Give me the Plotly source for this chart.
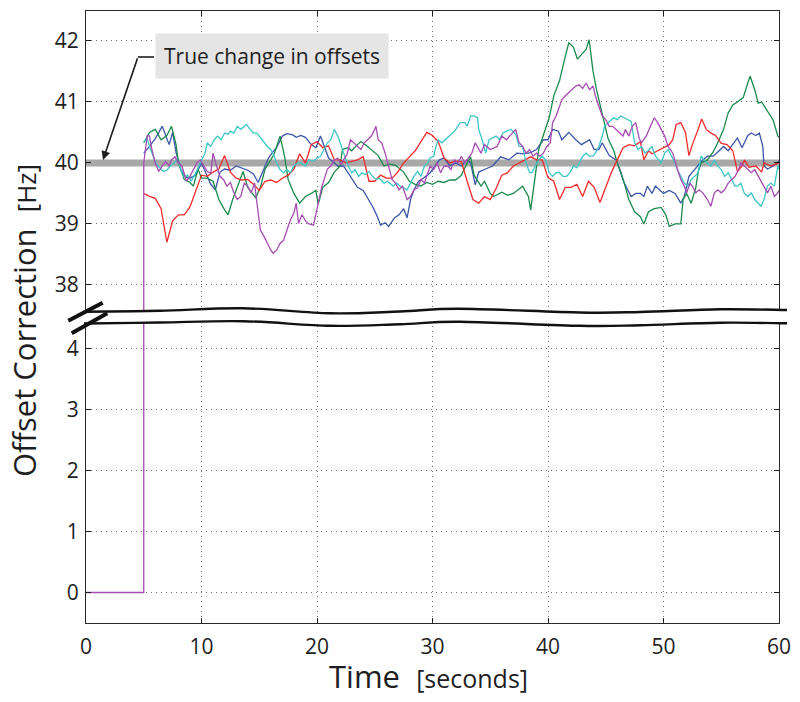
import plotly.graph_objects as go

# ---------------- data ----------------
time_ticks = [0, 10, 20, 30, 40, 50, 60]
low_ticks = [0, 1, 2, 3, 4]
high_ticks = [38, 39, 40, 41, 42]
true_offset = 40
OFF = 32.96  # shift applied to the upper (38-42 Hz) panel of the broken axis

red = [(5.0,39.50),(5.5,39.45),(6.0,39.42),(6.5,39.25),(7.0,38.70),(7.5,39.05),(8.0,39.15),(8.5,39.15),
       (9.0,39.28),(9.5,39.55),(10.0,39.80),(10.5,39.78),(11.0,39.85),(11.5,39.90),(12.0,40.12),(12.5,39.85),
       (13.0,39.75),(13.5,39.72),(14.0,39.73),(14.5,39.65),(15.0,39.55),(15.5,39.70),(16.0,39.72),(16.5,39.68),
       (17.0,39.75),(17.5,39.80),(18.0,39.90),(18.5,40.15),(19.0,40.00),(19.5,40.30),(20.0,40.35),(20.5,40.25),
       (21.0,40.28),(21.5,40.05),(22.0,40.05),(22.5,40.00),(23.0,40.02),(23.5,40.05),(24.0,40.10),(24.5,39.70),
       (25.0,39.70),(25.5,39.80),(26.0,39.75),(26.5,39.75),(27.0,39.85),(27.5,40.00),(28.0,40.10),(28.5,40.20),
       (29.0,40.35),(29.5,40.50),(30.0,40.45),(30.5,40.35),(31.0,40.08),(31.5,40.00),(32.0,40.03),(32.5,40.02),
       (33.0,39.70),(33.5,39.40),(34.0,39.34),(34.5,39.45),(35.0,39.40),(35.5,39.58),(36.0,39.80),(36.5,39.84),
       (37.0,39.95),(37.5,40.00),(38.0,40.05),(38.5,40.10),(39.0,40.05),(39.5,40.05),(40.0,39.76),(40.5,39.70),
       (41.0,39.40),(41.5,39.60),(42.0,39.60),(42.5,39.65),(43.0,39.45),(43.5,39.70),(44.0,39.60),(44.5,39.35),
       (45.0,39.60),(45.5,39.85),(46.0,40.05),(46.5,40.25),(47.0,40.30),(47.5,40.28),(48.0,40.35),(48.3,40.05),
       (48.7,40.20),(49.0,40.15),(49.5,40.20),(50.0,40.25),(50.5,40.30),(50.8,40.38),(51.1,40.63),(51.5,40.66),
       (51.9,40.50),(52.2,40.12),(52.5,40.30),(53.0,40.55),(53.3,40.72),(53.7,40.55),(54.0,40.50),(54.5,40.45),
       (55.0,40.32),(55.5,40.30),(56.0,40.20),(56.4,39.86),(56.8,39.95),(57.0,40.05),(57.4,39.93),(58.0,39.95),
       (58.5,39.85),(58.7,40.00),(59.3,39.95),(60.0,40.00)]

green = [(5.0,40.33),(5.5,40.50),(6.0,40.55),(6.5,40.38),(7.0,40.45),(7.4,40.60),(7.8,40.30),(8.0,40.00),
         (8.5,39.73),(9.0,39.68),(9.3,39.62),(9.7,39.90),(10.0,39.75),(10.5,39.75),(11.0,39.70),(11.5,39.40),
         (12.0,39.23),(12.3,39.15),(12.7,39.40),(13.0,39.55),(13.6,39.86),(14.0,39.60),(14.7,39.43),(15.1,39.60),
         (15.5,39.90),(16.0,40.05),(16.3,40.15),(16.8,40.44),(17.2,40.10),(17.5,39.73),(18.0,39.50),(18.5,39.34),
         (19.0,39.45),(19.5,39.50),(19.9,39.55),(20.1,39.32),(20.5,39.60),(21.0,39.68),(21.5,39.85),(22.0,39.95),
         (22.2,40.22),(22.7,40.25),(23.0,40.20),(23.5,40.30),(23.8,40.35),(24.3,40.28),(24.8,40.20),(25.3,40.12),
         (25.8,39.95),(26.3,39.98),(26.8,39.96),(27.5,39.85),(28.0,39.70),(28.5,39.65),(29.0,39.62),(29.5,39.68),
         (30.0,39.65),(30.5,39.70),(31.0,39.68),(31.5,39.72),(32.0,39.72),(32.5,39.80),(33.0,40.00),(33.3,40.10),
         (33.6,39.80),(34.2,39.62),(34.5,39.70),(35.0,39.50),(35.3,39.45),(36.0,39.52),(36.5,39.47),(37.0,39.50),
         (37.8,39.62),(38.3,39.45),(38.5,39.23),(38.9,39.75),(39.2,40.22),(39.5,40.40),(40.1,40.74),(40.5,41.10),
         (41.0,41.35),(41.5,41.75),(41.8,41.97),(42.2,41.90),(42.55,41.70),(43.0,41.80),(43.3,41.86),(43.56,42.02),
         (43.9,41.50),(44.2,41.20),(44.7,40.82),(45.2,40.40),(45.7,40.20),(46.0,40.00),(46.6,39.67),(47.0,39.40),
         (47.5,39.20),(48.0,39.12),(48.3,39.00),(48.7,39.20),(49.2,39.25),(49.8,39.27),(50.2,39.15),(50.5,38.96),
         (51.0,39.00),(51.5,39.00),(51.7,39.40),(52.0,39.50),(52.4,39.34),(52.8,39.60),(53.0,39.85),(53.25,40.00),
         (53.8,40.05),(54.3,40.18),(54.7,40.33),(55.2,40.55),(55.6,40.82),(56.0,40.95),(56.4,41.00),(56.9,41.07),
         (57.3,41.31),(57.5,41.42),(57.9,41.20),(58.2,40.98),(58.5,41.00),(59.0,40.85),(59.5,40.70),(59.9,40.44),
         (60.0,40.42)]

blue = [(5.0,40.16),(5.3,40.22),(5.5,40.27),(6.0,40.40),(6.3,40.50),(6.6,40.60),(6.9,40.45),(7.2,40.30),
        (7.5,40.50),(7.8,40.17),(8.2,39.90),(8.6,39.77),(9.0,39.75),(9.5,39.80),(10.0,40.00),(10.4,39.82),
        (10.8,39.65),(11.2,39.56),(11.6,39.85),(12.0,39.90),(12.5,39.88),(13.0,39.95),(13.5,39.92),(14.0,39.88),
        (14.5,39.82),(14.9,39.68),(15.4,39.90),(15.8,40.08),(16.1,40.16),(16.5,40.25),(17.0,40.44),(17.4,40.48),
        (17.9,40.46),(18.2,40.42),(18.6,40.45),(19.0,40.42),(19.5,40.30),(19.9,40.25),(20.3,40.44),(20.6,40.28),
        (21.0,40.08),(21.4,40.02),(21.8,39.95),(22.3,39.95),(23.2,39.67),(23.5,39.60),(24.0,39.55),(24.5,39.40),
        (24.8,39.29),(25.2,39.13),(25.5,38.98),(25.9,39.02),(26.2,38.96),(26.7,39.10),(27.1,39.15),(27.5,39.25),
        (27.8,39.10),(28.1,39.40),(28.4,39.56),(28.8,39.70),(29.2,39.75),(29.8,39.84),(30.2,39.95),(30.6,40.05),
        (31.0,40.08),(31.5,39.95),(32.0,40.00),(32.5,39.95),(33.0,40.05),(33.3,40.00),(33.7,39.64),(34.0,39.85),
        (34.6,39.90),(35.2,39.95),(35.9,40.10),(36.6,40.05),(37.3,40.16),(37.9,40.15),(38.5,40.17),(39.0,40.22),
        (39.6,40.38),(40.0,40.38),(40.4,40.55),(40.9,40.52),(41.2,40.38),(41.8,40.50),(42.4,40.38),(42.9,40.30),
        (43.6,40.38),(44.0,40.22),(44.4,40.22),(44.7,40.33),(45.3,40.12),(45.9,40.05),(46.3,39.85),(46.6,39.67),
        (47.2,39.45),(47.6,39.50),(48.0,39.50),(48.3,39.45),(48.6,39.62),(49.0,39.50),(49.3,39.62),(49.7,39.55),
        (50.0,39.50),(50.5,39.55),(51.0,39.50),(51.5,39.34),(51.8,39.45),(52.2,39.78),(52.5,39.85),(53.0,39.97),
        (53.4,40.05),(53.8,40.11),(54.3,40.11),(54.7,40.18),(55.2,40.27),(55.6,40.20),(56.1,40.33),(56.4,40.41),
        (56.8,40.25),(57.3,40.45),(57.6,40.49),(58.0,40.45),(58.3,40.49),(58.6,40.27),(58.7,39.95),(59.0,39.90),
        (59.5,39.95),(60.0,40.03)]

purple = [(0.0,0.0),(5.0,0.0),(5.0,40.00),(5.3,40.45),(5.5,40.44),(5.7,40.22),(6.0,40.00),(6.3,39.86),
          (6.6,39.95),(6.9,40.02),(7.2,39.95),(7.4,40.05),(7.7,40.10),(8.0,40.00),(8.3,39.95),(8.7,39.70),
          (9.0,39.78),(9.3,39.90),(9.6,40.00),(9.9,40.05),(10.2,39.95),(10.5,39.86),(10.8,39.83),(11.0,40.16),
          (11.3,39.95),(11.6,39.78),(11.9,39.73),(12.2,39.62),(12.5,39.68),(12.8,39.51),(13.1,39.40),(13.4,39.45),
          (13.7,39.67),(14.0,39.62),(14.3,39.51),(14.6,39.67),(14.8,39.34),(15.0,39.05),(15.1,38.90),(15.4,38.80),
          (15.7,38.68),(16.0,38.57),(16.2,38.52),(16.5,38.57),(16.8,38.68),(17.1,38.73),(17.4,38.90),(17.7,39.07),
          (18.0,39.18),(18.2,39.34),(18.4,39.01),(18.7,39.15),(19.0,39.05),(19.3,39.00),(19.7,38.98),(20.0,39.25),
          (20.2,39.40),(20.4,39.60),(20.7,39.78),(20.9,39.90),(21.2,39.95),(21.5,40.05),(21.8,40.08),(22.1,39.97),
          (22.3,40.05),(22.6,40.14),(22.9,40.38),(23.2,40.33),(23.5,40.27),(23.8,40.22),(24.1,40.33),(24.4,40.38),
          (24.7,40.44),(25.0,40.55),(25.1,40.60),(25.3,40.38),(25.6,40.33),(25.9,40.16),(26.2,39.95),(26.5,39.73),
          (26.8,39.67),(27.1,39.56),(27.4,39.62),(27.8,39.40),(28.1,39.45),(28.4,39.56),(28.7,39.59),(29.0,39.73),
          (29.3,39.67),(29.6,39.84),(29.8,39.95),(30.1,39.89),(30.4,40.00),(30.7,39.84),(31.0,39.95),(31.3,39.95),
          (31.6,39.89),(31.9,40.05),(32.2,40.00),(32.5,40.11),(32.8,40.00),(33.1,40.08),(33.4,40.16),(33.7,40.33),
          (34.0,40.22),(34.2,40.16),(34.5,40.30),(35.0,40.22),(35.6,40.27),(36.0,40.44),(36.4,40.38),(36.9,40.49),
          (37.2,40.55),(37.5,40.33),(37.8,40.27),(38.1,40.16),(38.4,40.22),(38.7,40.11),(39.0,40.16),(39.3,40.11),
          (39.6,40.16),(39.9,40.27),(40.2,40.33),(40.4,40.66),(40.7,40.77),(41.0,40.93),(41.2,41.04),(41.5,41.10),
          (41.8,41.15),(42.1,41.20),(42.4,41.26),(42.7,41.28),(43.0,41.22),(43.3,41.31),(43.6,41.20),(43.9,41.26),
          (44.1,41.10),(44.4,40.93),(44.7,40.77),(45.0,40.71),(45.3,40.60),(45.6,40.60),(45.9,40.55),(46.2,40.49),
          (46.5,40.44),(46.7,40.55),(47.0,40.44),(47.3,40.60),(47.6,40.66),(47.9,40.40),(48.1,40.33),(48.5,40.44),
          (48.9,40.60),(49.2,40.74),(49.5,40.66),(49.8,40.55),(50.1,40.44),(50.4,40.27),(50.8,40.16),(51.2,39.90),
          (51.5,39.73),(51.8,39.62),(52.0,39.51),(52.3,39.67),(52.5,39.62),(52.8,39.51),(53.1,39.56),(53.4,39.51),
          (53.8,39.40),(54.1,39.29),(54.4,39.51),(54.7,39.56),(55.0,39.51),(55.3,39.56),(55.6,39.67),(55.9,39.73),
          (56.2,39.78),(56.5,39.89),(56.7,40.00),(57.0,39.95),(57.3,39.89),(57.6,39.84),(57.9,39.89),(58.2,39.78),
          (58.4,39.73),(58.7,39.62),(59.0,39.51),(59.3,39.62),(59.6,39.45),(59.9,39.51),(60.0,39.55)]

cyan = [(5.0,40.35),(5.3,40.40),(5.5,40.27),(5.8,40.11),(6.1,39.97),(6.4,39.92),(6.7,39.86),(7.0,39.88),
        (7.3,39.95),(7.6,40.00),(7.9,40.05),(8.2,39.90),(8.5,39.77),(8.8,39.80),(9.1,39.70),(9.4,39.80),
        (9.7,39.92),(10.0,40.05),(10.3,40.16),(10.5,40.33),(10.8,40.27),(11.1,40.38),(11.4,40.44),(11.7,40.38),
        (12.0,40.49),(12.3,40.47),(12.5,40.52),(12.8,40.49),(13.1,40.60),(13.4,40.55),(13.7,40.60),(13.9,40.63),
        (14.2,40.55),(14.5,40.49),(14.8,40.49),(15.1,40.41),(15.4,40.33),(15.7,40.27),(16.0,40.22),(16.3,40.11),
        (16.5,40.00),(16.8,39.89),(17.1,39.84),(17.4,39.89),(17.7,39.84),(18.0,39.95),(18.3,40.00),(18.6,40.00),
        (19.0,39.95),(19.3,40.05),(19.7,40.03),(20.0,40.08),(20.3,40.11),(20.6,40.22),(20.9,40.33),(21.2,40.38),
        (21.5,40.55),(21.8,40.44),(22.1,40.27),(22.4,40.11),(22.7,39.95),(23.0,39.84),(23.3,39.89),(23.6,39.78),
        (23.9,39.84),(24.2,39.81),(24.5,39.86),(24.8,39.78),(25.1,39.73),(25.4,39.75),(25.8,39.67),(26.1,39.70),
        (26.6,39.62),(26.9,39.67),(27.2,39.62),(27.8,39.56),(28.1,39.67),(28.4,39.78),(28.7,39.86),(29.0,39.78),
        (29.3,39.95),(29.6,40.00),(29.8,40.08),(30.1,40.11),(30.3,40.27),(30.5,40.38),(30.8,40.33),(31.1,40.38),
        (31.4,40.44),(31.7,40.49),(31.9,40.52),(32.2,40.60),(32.4,40.66),(32.8,40.66),(33.0,40.60),(33.3,40.77),
        (33.6,40.77),(33.9,40.74),(34.0,40.55),(34.3,40.38),(34.6,40.16),(34.9,40.38),(35.2,40.41),(35.5,40.44),
        (35.8,40.38),(36.1,40.49),(36.4,40.52),(36.8,40.55),(37.2,40.47),(37.5,40.27),(37.8,40.27),(38.1,40.00),
        (38.4,39.84),(38.6,39.84),(38.9,39.95),(39.2,40.05),(39.5,40.11),(39.8,40.05),(40.1,39.84),(40.4,39.78),
        (40.7,39.84),(41.0,39.84),(41.3,39.78),(41.6,39.78),(41.9,39.84),(42.2,39.95),(42.5,39.92),(42.7,40.00),
        (43.0,40.11),(43.3,40.16),(43.6,40.11),(43.9,40.11),(44.1,40.16),(44.4,40.27),(44.7,40.44),(44.9,40.60),
        (45.2,40.66),(45.5,40.71),(45.7,40.74),(46.0,40.71),(46.3,40.77),(46.6,40.74),(46.9,40.71),(47.2,40.68),
        (47.5,40.33),(47.8,40.22),(48.1,40.27),(48.4,40.16),(48.6,40.19),(49.0,40.27),(49.3,40.11),(49.8,40.00),
        (50.1,40.16),(50.4,40.22),(50.7,40.11),(51.0,40.00),(51.2,39.89),(51.5,39.78),(51.8,39.67),(52.1,39.62),
        (52.4,39.73),(52.7,39.78),(53.0,39.84),(53.25,40.11),(53.5,40.05),(53.8,40.00),(54.1,39.95),(54.4,40.05),
        (54.7,39.95),(55.0,39.89),(55.3,39.78),(55.6,39.84),(55.9,39.73),(56.2,39.62),(56.4,39.62),(56.7,39.67),
        (57.0,39.50),(57.3,39.45),(57.6,39.51),(57.9,39.40),(58.2,39.34),(58.45,39.29),(58.7,39.40),(59.0,39.62),
        (59.3,39.67),(59.6,39.62),(59.9,39.95),(60.0,39.90)]

series = [
    (blue, "#3d55a8"),
    (green, "#1a8a4c"),
    (red, "#f22a2a"),
    (cyan, "#3ec6c6"),
    (purple, "#a64cb2"),
]


def to_axis(v):
    """Map a value onto the broken axis (upper panel shifted down)."""
    return v - OFF if v >= 20 else v


FONT = "Open Sans"
INK = "#1e1e1e"

fig = go.Figure()

# true offset reference
fig.add_trace(go.Scatter(x=[time_ticks[0], time_ticks[-1]], y=[to_axis(true_offset)] * 2,
                         mode="lines", line=dict(color="#a8a8a8", width=7), hoverinfo="skip",
                         showlegend=False))

for data, col in series:
    t = [p[0] for p in data]
    v = [to_axis(p[1]) for p in data]
    fig.add_trace(go.Scatter(x=t, y=v, mode="lines", line=dict(color=col, width=1.3),
                             showlegend=False, hoverinfo="skip"))

# ---------------- layout helpers (pixel -> paper) ----------------
W, H = 800, 702
L, R, T, B = 86, 21, 11, 79
PW, PH = W - L - R, H - T - B     # 693 x 612


def PX(x):
    return (x - L) / PW


def PY(y):
    return (H - B - y) / PH


def smooth(pts):
    segs = []
    for i in range(len(pts) - 1):
        p0 = pts[i - 1] if i > 0 else pts[i]
        p1, p2 = pts[i], pts[i + 1]
        p3 = pts[i + 2] if i + 2 < len(pts) else pts[i + 1]
        c1 = (p1[0] + (p2[0] - p0[0]) / 6, p1[1] + (p2[1] - p0[1]) / 6)
        c2 = (p2[0] - (p3[0] - p1[0]) / 6, p2[1] - (p3[1] - p1[1]) / 6)
        segs.append(f"C{PX(c1[0]):.5f},{PY(c1[1]):.5f} {PX(c2[0]):.5f},{PY(c2[1]):.5f} "
                    f"{PX(p2[0]):.5f},{PY(p2[1]):.5f}")
    return " ".join(segs)


wave_top = [(84, 311.8), (160, 310.8), (243, 308.3), (330, 313.3), (400, 311.5), (460, 308.8),
            (580, 312.5), (640, 312.0), (720, 309.3), (787, 310.0)]
wave_bot = [(84, 323.5), (160, 322.5), (243, 321.2), (330, 325.8), (400, 324.2), (460, 321.8),
            (580, 325.8), (640, 325.2), (720, 322.7), (787, 323.3)]

top_path = f"M{PX(wave_top[0][0]):.5f},{PY(wave_top[0][1]):.5f} " + smooth(wave_top)
bot_path = f"M{PX(wave_bot[0][0]):.5f},{PY(wave_bot[0][1]):.5f} " + smooth(wave_bot)
rb = wave_bot[::-1]
band_path = (top_path + f" L{PX(rb[0][0]):.5f},{PY(rb[0][1]):.5f} " + smooth(rb) + " Z")

shapes = [
    dict(type="path", xref="paper", yref="paper", path=band_path, fillcolor="white",
         line=dict(width=0), layer="above"),
    dict(type="path", xref="paper", yref="paper", path=top_path,
         line=dict(color="#111", width=2.4), layer="above"),
    dict(type="path", xref="paper", yref="paper", path=bot_path,
         line=dict(color="#111", width=2.4), layer="above"),
    dict(type="line", xref="paper", yref="paper", x0=PX(68.3), y0=PY(320.7), x1=PX(102.7), y1=PY(302.7),
         line=dict(color="#111", width=4), layer="above"),
    dict(type="line", xref="paper", yref="paper", x0=PX(71.7), y0=PY(333.3), x1=PX(107.3), y1=PY(313.3),
         line=dict(color="#111", width=4), layer="above"),
    # connector from label box to arrow
    dict(type="line", xref="paper", yref="paper", x0=PX(138), y0=PY(57), x1=PX(154), y1=PY(57),
         line=dict(color=INK, width=1.6), layer="above"),
]

annotations = [
    dict(xref="paper", yref="paper", x=PX(271.5), y=PY(56.5), xanchor="center", yanchor="middle",
         text="True change in offsets", showarrow=False, bgcolor="#e5e5e5", borderpad=8,
         font=dict(family=FONT, size=21, color=INK)),
    dict(xref="x", yref="y", x=1.47, y=to_axis(40.05), ax=35, ay=-103, text="", showarrow=True,
         arrowhead=2, arrowsize=1.1, arrowwidth=1.6, arrowcolor=INK, standoff=0),
    dict(xref="paper", yref="paper", x=PX(428), y=PY(676), xanchor="center", yanchor="middle",
         text="Time\u00a0\u00a0<span style='font-size:25px'>[seconds]</span>", showarrow=False,
         font=dict(family=FONT, size=31, color=INK)),
    dict(xref="paper", yref="paper", x=PX(24), y=PY(321), xanchor="center", yanchor="middle",
         textangle=-90,
         text="Offset Correction\u00a0\u00a0<span style='font-size:26px'>[Hz]</span>",
         showarrow=False, font=dict(family=FONT, size=31, color=INK)),
]

axis_common = dict(
    ticks="inside", ticklen=5, tickwidth=1, tickcolor=INK, mirror="ticks", showline=True,
    linecolor="#2a2a2a", linewidth=1.3, showgrid=True, gridcolor="#6e6e6e", griddash="1px,4px",
    gridwidth=1, zeroline=False, tickfont=dict(family=FONT, size=21, color=INK),
)

fig.update_layout(
    width=W, height=H,
    margin=dict(l=L, r=R, t=T, b=B, autoexpand=False),
    paper_bgcolor="white", plot_bgcolor="white",
    xaxis=dict(range=[0, 60], tickvals=time_ticks, ticktext=[str(v) for v in time_ticks],
               ticklabelstandoff=5, **axis_common),
    yaxis=dict(range=[-0.5, 9.53],
               tickvals=low_ticks + [to_axis(v) for v in high_ticks],
               ticktext=[str(v) for v in low_ticks + high_ticks], ticklabelstandoff=2,
               **axis_common),
    shapes=shapes, annotations=annotations, showlegend=False,
)

# remove the browser's default 8px body margin so the figure fills the 800x702 window exactly
fig.write_html("out.html", config={"displayModeBar": False},
               post_script="document.body.style.margin='0';document.body.style.padding='0';")
